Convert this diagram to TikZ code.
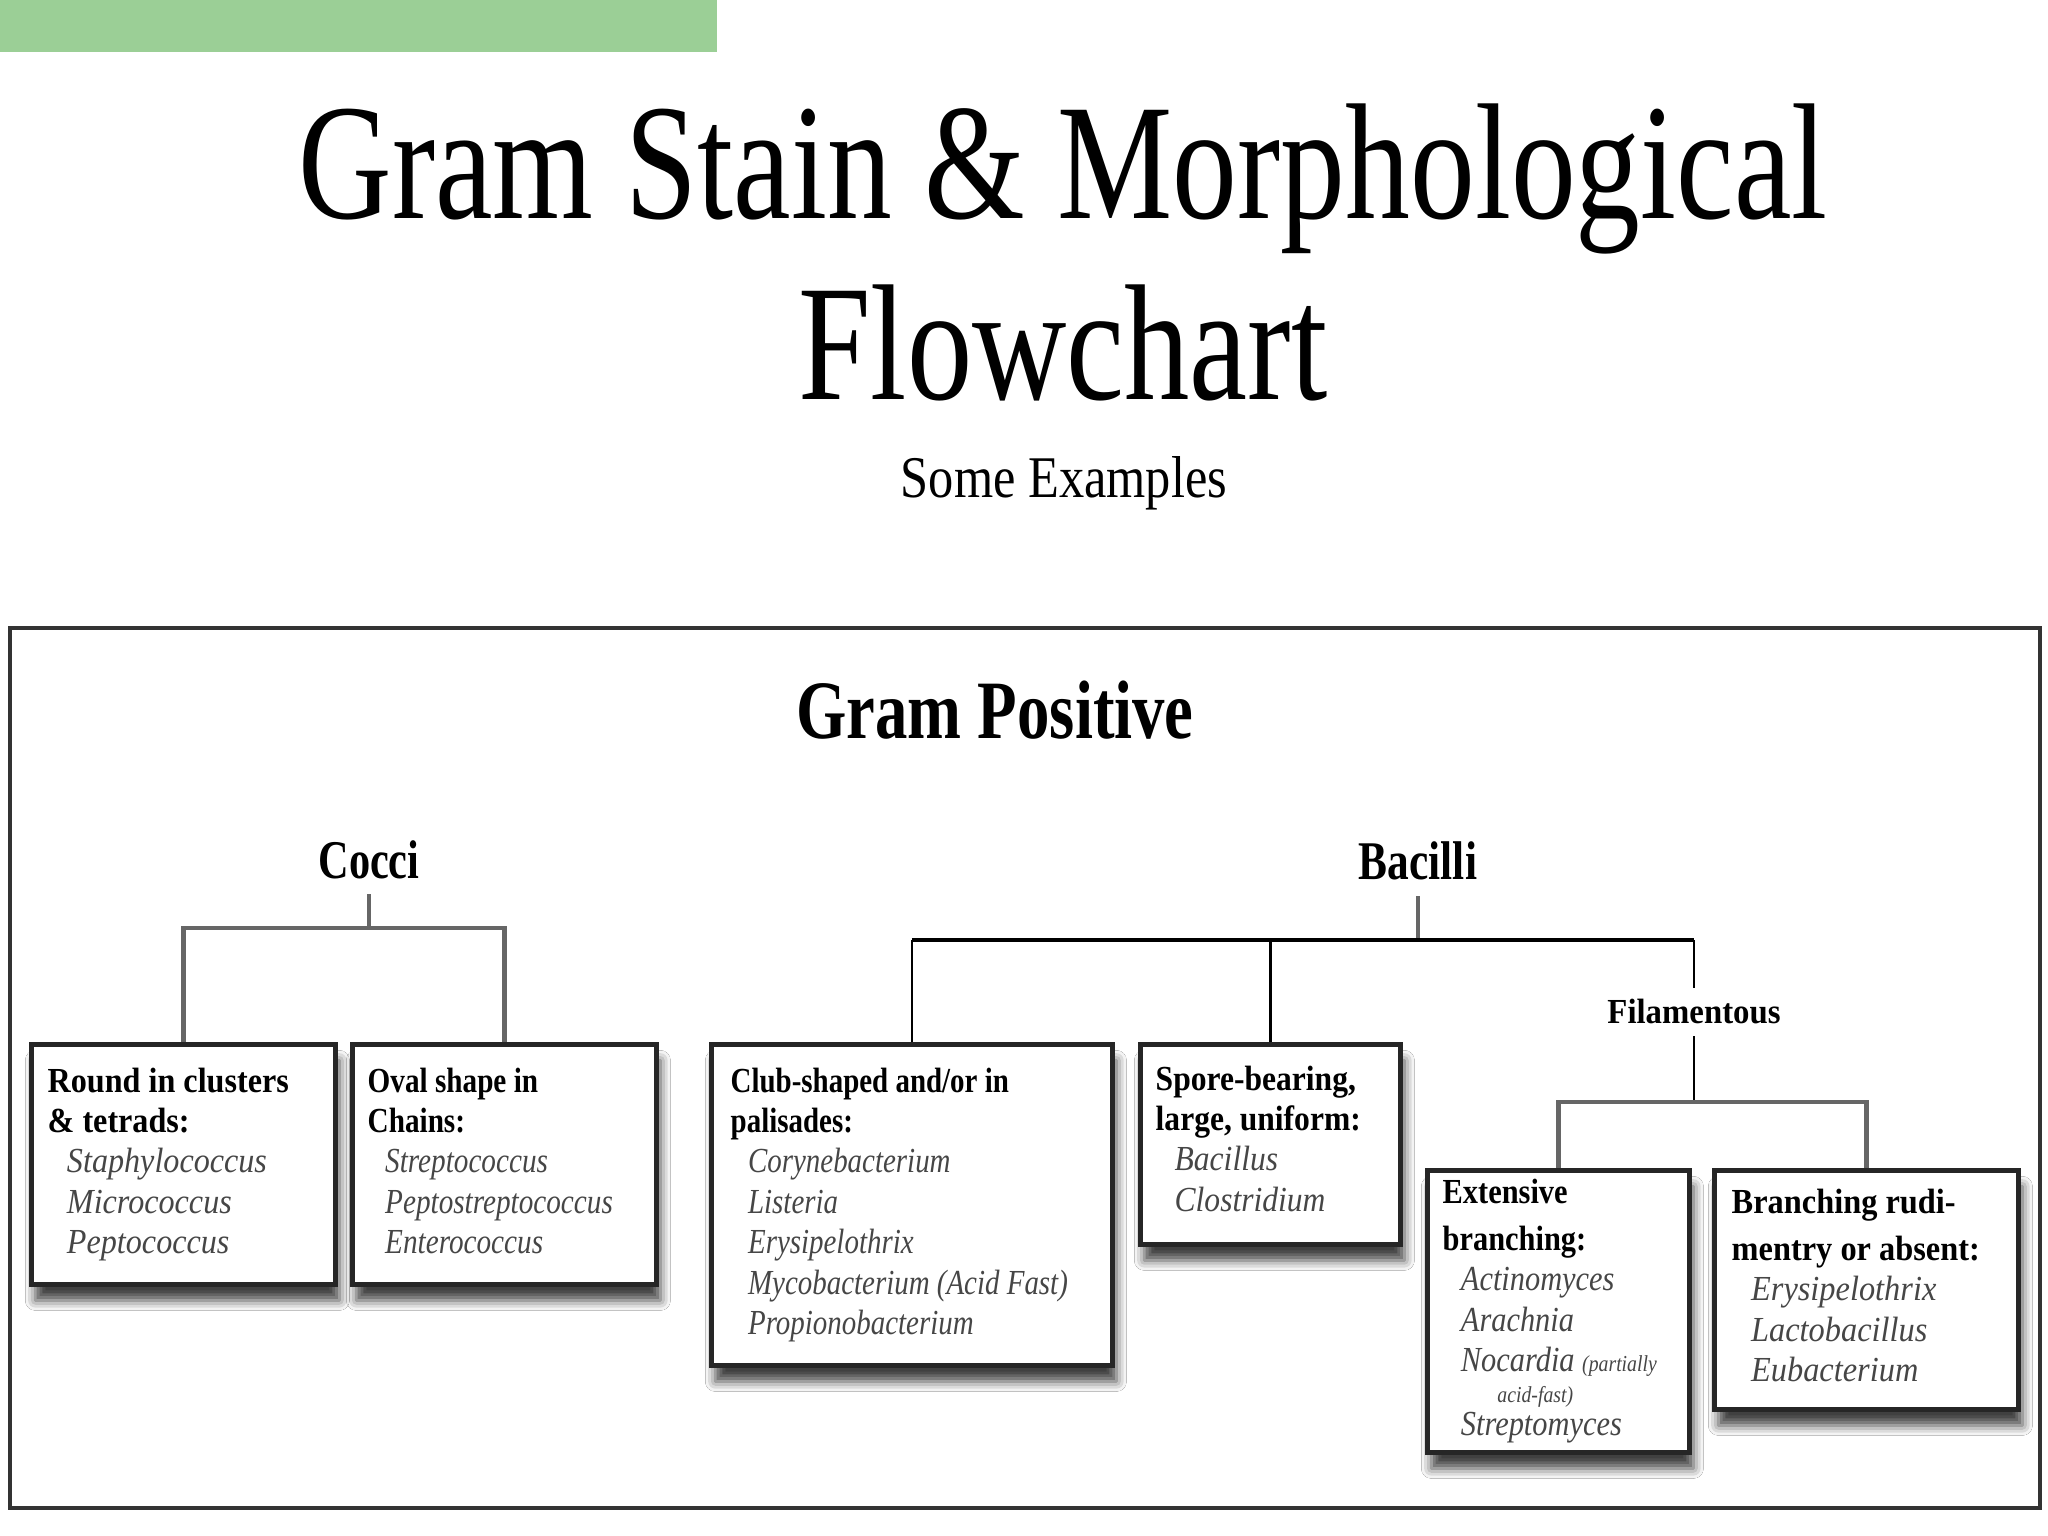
\documentclass[tikz,border=0pt]{standalone}
\usepackage{fontspec}
\setmainfont{Liberation Serif}
\usepackage{graphicx}
\usetikzlibrary{calc,shadows.blur}
\definecolor{barg}{RGB}{155,207,150}
\definecolor{itemc}{RGB}{70,70,70}
\newcommand{\fw}[2]{\resizebox{#1}{\height}{#2}}
\newcommand{\gn}[1]{\hspace*{6pt}{\color{itemc}\itshape #1}}
\newcommand{\hd}[1]{\textbf{#1}}
\newenvironment{bx}{\fontsize{10}{11.5}\selectfont\begin{tabular}[t]{@{}l@{}}}{\end{tabular}}
\begin{document}
\begin{tikzpicture}[x=0.01cm,y=-0.01cm,
  gbox/.style={draw=black!85, line width=1.3pt, fill=white, rectangle, inner sep=0, anchor=north west,
    blur shadow={shadow xshift=0.04cm, shadow yshift=-0.16cm, shadow blur radius=0.1cm, shadow opacity=75}},
  boxtxt/.style={anchor=base west, inner sep=0, align=left},
  ttl/.style={anchor=base, inner sep=0, font=\fontsize{47}{50}\selectfont},
  sub/.style={anchor=base, inner sep=0, font=\fontsize{16.8}{18}\selectfont},
  gpos/.style={anchor=base, inner sep=0, font=\fontsize{23.6}{26}\selectfont\bfseries},
  cat/.style={anchor=base, inner sep=0, font=\fontsize{15.5}{17}\selectfont\bfseries},
  fil/.style={anchor=base, inner sep=0, font=\fontsize{10}{11}\selectfont\bfseries},
  vline/.style={line width=0.8pt, black},
  hline/.style={line width=1.3pt, black!60},
  bline/.style={line width=1.4pt, black},
]
\fill[white] (0,0) rectangle (2048,1536);
\useasboundingbox (0,0) rectangle (2048,1536);
\fill[barg] (0,0) rectangle (717,52);

\node[ttl] (t1) at (1063,218) {\fw{15.28cm}{Gram Stain \& Morphological}};
\node[ttl] (t2) at (1063,399) {\fw{5.29cm}{Flowchart}};
\node[sub] (t3) at (1064,497) {\fw{3.26cm}{Some Examples}};

% outer frame
\draw[black!80, line width=1.4pt] (10,628) rectangle (2040,1508);
\node[gpos] (gp) at (995,738) {\fw{3.97cm}{Gram Positive}};

\node[cat] (cocci) at (369,878) {\fw{1.01cm}{Cocci}};
\node[cat] (bacilli) at (1418,879) {\fw{1.18cm}{Bacilli}};
\node[fil] (filam) at (1694,1023) {\fw{1.73cm}{Filamentous}};

% boxes
\node[gbox, minimum width=3.04cm, minimum height=2.40cm] (b1) at (29,1042) {};
\node[gbox, minimum width=3.04cm, minimum height=2.40cm] (b2) at (350,1042) {};
\node[gbox, minimum width=4.01cm, minimum height=3.21cm] (b3) at (709,1042) {};
\node[gbox, minimum width=2.60cm, minimum height=2.00cm] (b4) at (1138,1042) {};
\node[gbox, minimum width=2.62cm, minimum height=2.82cm] (b5) at (1425,1168) {};
\node[gbox, minimum width=3.04cm, minimum height=2.39cm] (b6) at (1712,1168) {};

\node[boxtxt] (b1t) at (47,1092) {\fw{2.41cm}{\begin{bx}\hd{Round in clusters}\\ \hd{\& tetrads:}\\ \gn{Staphylococcus}\\ \gn{Micrococcus}\\ \gn{Peptococcus}\end{bx}}};
\node[boxtxt] (b2t) at (367,1092) {\fw{2.45cm}{\begin{bx}\hd{Oval shape in}\\ \hd{Chains:}\\ \gn{Streptococcus}\\ \gn{Peptostreptococcus}\\ \gn{Enterococcus}\end{bx}}};
\node[boxtxt] (b3t) at (730,1092) {\fw{3.37cm}{\begin{bx}\hd{Club-shaped and/or in}\\ \hd{palisades:}\\ \gn{Corynebacterium}\\ \gn{Listeria}\\ \gn{Erysipelothrix}\\ \gn{Mycobacterium (Acid Fast)}\\ \gn{Propionobacterium}\end{bx}}};
\node[boxtxt] (b4t) at (1155,1090) {\fw{2.05cm}{\begin{bx}\hd{Spore-bearing,}\\ \hd{large, uniform:}\\ \gn{Bacillus}\\ \gn{Clostridium}\end{bx}}};
\node[boxtxt] (b5t) at (1442,1203) {\fw{2.14cm}{\begin{bx}\hd{Extensive}\\[2pt] \hd{branching:}\\ \gn{Actinomyces}\\ \gn{Arachnia}\\ \gn{Nocardia {\fontsize{6.5}{7}\selectfont (partially}}\\[-2.8pt] \gn{\hspace*{12pt}{\fontsize{6.5}{7}\selectfont acid-fast)}}\\[-2pt] \gn{Streptomyces}\end{bx}}};
\node[boxtxt] (b6t) at (1731,1213) {\fw{2.48cm}{\begin{bx}\hd{Branching rudi-}\\[2pt] \hd{mentry or absent:}\\ \gn{Erysipelothrix}\\ \gn{Lactobacillus}\\ \gn{Eubacterium}\end{bx}}};

% connectors: Cocci
\coordinate (cj) at (369,928);
\draw[hline, shorten <=0.15cm] (cocci.south) -- (cj);
\draw[hline] (b1.north) -- (b1.north |- cj) -- (b2.north |- cj) -- (b2.north);

% connectors: Bacilli
\coordinate (bj) at (1418,940);
\draw[hline, shorten <=0.16cm] (bacilli.south) -- (bj);
\draw[bline] (b3.north |- bj) -- (filam.north |- bj);
\draw[vline] (b3.north) -- (b3.north |- bj);
\draw[vline] (b4.north) -- (b4.north |- bj);
\draw[vline, shorten >=0.1cm] (filam.north |- bj) -- (filam.north);

% connectors: Filamentous
\coordinate (fj) at (1694,1102);
\draw[vline, shorten <=0.12cm] (filam.south) -- (fj);
\draw[hline] (b5.north) -- (b5.north |- fj) -- (b6.north |- fj) -- (b6.north);
\end{tikzpicture}
\end{document}
